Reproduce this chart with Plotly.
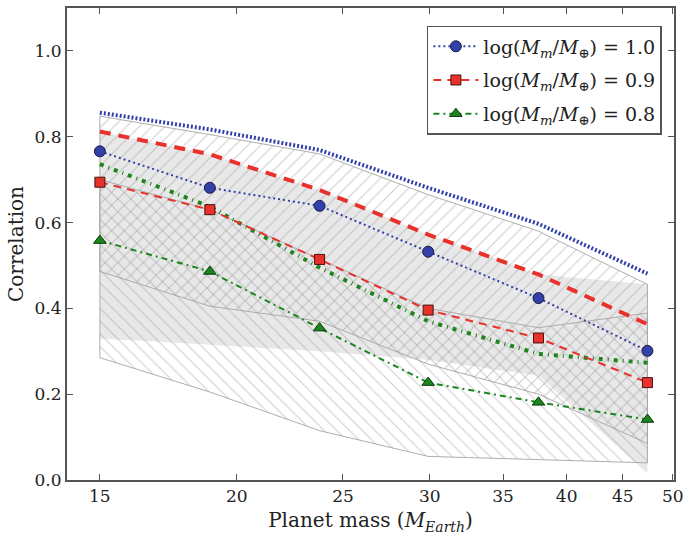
import plotly.graph_objects as go

# Planet masses (Earth masses) at which correlations were evaluated
planet_mass = [15.0, 18.9, 23.8, 29.9, 37.7, 47.4]

# Mean correlation for each moon-mass case
corr_10 = [0.766, 0.681, 0.639, 0.532, 0.424, 0.301]
corr_09 = [0.694, 0.630, 0.514, 0.396, 0.331, 0.227]
corr_08 = [0.558, 0.486, 0.354, 0.227, 0.181, 0.141]

# Upper envelopes (thick lines)
upper_10 = [0.856, 0.817, 0.769, 0.681, 0.597, 0.481]
upper_09 = [0.812, 0.759, 0.676, 0.572, 0.479, 0.363]
upper_08 = [0.736, 0.637, 0.495, 0.370, 0.294, 0.273]

# Shaded ranges
band_a_hi = [0.848, 0.805, 0.760, 0.665, 0.580, 0.456]
band_a_lo = [0.486, 0.405, 0.370, 0.270, 0.200, 0.085]
band_b_hi = [0.812, 0.759, 0.676, 0.572, 0.479, 0.456]
band_b_lo = [0.330, 0.315, 0.300, 0.280, 0.243, 0.016]
band_c_hi = [0.700, 0.630, 0.515, 0.400, 0.355, 0.389]
band_c_lo = [0.285, 0.205, 0.115, 0.055, 0.048, 0.040]

x_ticks = [15, 20, 25, 30, 35, 40, 45, 50]
y_ticks = [0.0, 0.2, 0.4, 0.6, 0.8, 1.0]

BLUE = "#3340a8"
RED = "#e8312b"
GREEN = "#1c861c"
FONT = "DejaVu Serif"

fig = go.Figure()


def band(lo, hi, fillcolor=None, pattern=None, edge="rgba(165,165,165,0.9)"):
    xs = planet_mass + planet_mass[::-1] + [planet_mass[0]]
    ys = hi + lo[::-1] + [hi[0]]
    kw = {}
    if pattern:
        kw["fillpattern"] = dict(shape=pattern, fgcolor="rgba(140,140,140,0.85)",
                                 bgcolor="rgba(0,0,0,0)", size=9, solidity=0.12)
        kw["fillcolor"] = "rgba(0,0,0,0)"
    else:
        kw["fillcolor"] = fillcolor
    fig.add_trace(go.Scatter(x=xs, y=ys, mode="lines", fill="toself",
                             line=dict(color=edge, width=1),
                             hoverinfo="skip", showlegend=False, **kw))


band(band_b_lo, band_b_hi, fillcolor="rgba(195,195,195,0.38)", edge="rgba(0,0,0,0)")
band(band_a_lo, band_a_hi, pattern="/")
band(band_c_lo, band_c_hi, pattern="\\")

# Thick envelope lines
fig.add_trace(go.Scatter(x=planet_mass, y=upper_10, mode="lines", showlegend=False,
                         line=dict(color=BLUE, width=4, dash="2px,2px")))
fig.add_trace(go.Scatter(x=planet_mass, y=upper_09, mode="lines", showlegend=False,
                         line=dict(color=RED, width=4, dash="11px,8px")))
fig.add_trace(go.Scatter(x=planet_mass, y=upper_08, mode="lines", showlegend=False,
                         line=dict(color=GREEN, width=4, dash="4px,5px,1px,5px")))

# Mean correlation lines with markers
fig.add_trace(go.Scatter(
    x=planet_mass, y=corr_10, mode="lines+markers", legendgroup="g10",
    name="log(<i>M</i><sub><i>m</i></sub>/<i>M</i><sub>⊕</sub>) = 1.0",
    line=dict(color=BLUE, width=2, dash="2px,3px"),
    marker=dict(symbol="circle", size=11, color=BLUE, line=dict(color="#1a1a4a", width=1))))
fig.add_trace(go.Scatter(
    x=planet_mass, y=corr_09, mode="lines+markers", legendgroup="g09",
    name="log(<i>M</i><sub><i>m</i></sub>/<i>M</i><sub>⊕</sub>) = 0.9",
    line=dict(color=RED, width=2, dash="8px,6px"),
    marker=dict(symbol="square", size=10, color=RED, line=dict(color="#4a1010", width=1))))
fig.add_trace(go.Scatter(
    x=planet_mass, y=corr_08, mode="lines+markers", legendgroup="g08",
    name="log(<i>M</i><sub><i>m</i></sub>/<i>M</i><sub>⊕</sub>) = 0.8",
    line=dict(color=GREEN, width=2, dash="6px,4px,2px,4px"),
    marker=dict(symbol="triangle-up", size=11, color=GREEN, line=dict(color="#0a3a0a", width=1))))

axis_common = dict(showgrid=False, zeroline=False, showline=True, mirror="ticks",
                   linecolor="#555555", linewidth=2, ticks="inside", ticklen=6,
                   tickcolor="#555555", tickwidth=1, ticklabeloverflow="allow",
                   tickfont=dict(family=FONT, size=17, color="#222222"))

fig.update_layout(
    width=690, height=541,
    margin=dict(l=67, r=10, t=6, b=61),
    paper_bgcolor="white", plot_bgcolor="white",
    font=dict(family=FONT, color="#222222"),
    xaxis=dict(type="log", range=[1.1461, 1.7], tickvals=x_ticks,
               ticktext=[str(v) for v in x_ticks],
               title=dict(text="Planet mass (<i>M</i><sub><i>Earth</i></sub>)",
                          font=dict(family=FONT, size=20), standoff=8),
               **axis_common),
    yaxis=dict(range=[0, 1.1], tickvals=y_ticks,
               ticktext=[f"{v:.1f}" for v in y_ticks],
               title=dict(text="Correlation", font=dict(family=FONT, size=20), standoff=6),
               **axis_common),
    legend=dict(x=0.98, y=0.962, xanchor="right", yanchor="top",
                bgcolor="white", bordercolor="#555555", borderwidth=1.5,
                font=dict(family=FONT, size=19, color="#222222"),
                traceorder="grouped", tracegroupgap=6, itemwidth=45),
)

fig.write_html("out.html")
